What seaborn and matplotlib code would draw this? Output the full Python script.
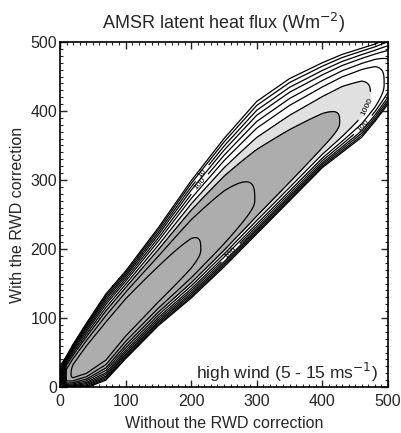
import numpy as np
import matplotlib
matplotlib.use("Agg")
import matplotlib.pyplot as plt
from matplotlib.ticker import MultipleLocator
import seaborn as sns

sns.set_style("ticks")
plt.rcParams['font.family'] = ['Liberation Sans', 'DejaVu Sans']

# ---- values ----
ridge_x      = [0, 10, 20, 40, 70, 100, 150, 200, 250, 300, 350, 400, 430, 460, 480, 500]
ridge_center = [15, 15, 20, 35, 62, 98, 143, 187, 231, 274, 317, 361, 387, 412, 428, 445]
ridge_peak   = [-0.5, 4.2, 4.6, 4.85, 4.9, 4.85, 4.7, 4.55, 4.3, 3.98, 3.78, 3.6, 3.46, 3.2, 2.9, 2.3]  # log10 count
edge_upper   = [30, 45, 62, 92, 135, 168, 231, 299, 360, 414, 447, 470, 482, 491, 497, 505]   # level-1 contour, upper side
edge_lower   = [0, -2, -2, -1, 10, 41, 89, 129, 174, 222, 270, 318, 340, 362, 385, 410]      # level-1 contour, lower side
contour_levels = [1, 3, 10, 30, 100, 300, 1000, 3000, 10000, 30000]
label_levels   = [10, 100, 1000]
shade_levels   = [1000, 3000]
ticks = [0, 100, 200, 300, 400, 500]

# ---- build the count field from the ridge description ----
p = 3.0
gx = np.linspace(-5, 510, 516)
gy = np.linspace(-25, 530, 556)
P = np.interp(gx, ridge_x, ridge_peak)
C = np.interp(gx, ridge_x, ridge_center)
U = np.interp(gx, ridge_x, edge_upper) - C
Lo = C - np.interp(gx, ridge_x, edge_lower)
base = np.maximum(P, 0.3) ** (1.0 / p)
hu = np.maximum(U, 1) / base
hl = np.maximum(Lo, 1) / base
X, Y = np.meshgrid(gx, gy)
D = Y - C[None, :]
H = np.where(D > 0, hu[None, :], hl[None, :])
L = P[None, :] - (np.abs(D) / H) ** p
Z = 10.0 ** L

fig = plt.figure(figsize=(4.02, 4.33), dpi=100)
ax = fig.add_axes([60 / 402, 46 / 433, 328 / 402, 345 / 433])

ax.contourf(gx, gy, Z, levels=shade_levels + [1e12], colors=['#e0e0e0', '#adadad'])
unlabeled = [v for v in contour_levels if v not in label_levels]
ax.contour(gx, gy, Z, levels=unlabeled, colors='black', linewidths=0.9)
label_spots = {10: [(228, 300)], 100: [(215, 292), (470, 372), (268, 186)], 1000: [(478, 400)]}
for lev in label_levels:
    cs = ax.contour(gx, gy, Z, levels=[lev], colors='black', linewidths=0.9)
    ax.clabel(cs, fmt='%d', fontsize=6, inline=True, manual=label_spots[lev])

ax.set_xlim(0, 500)
ax.set_ylim(0, 500)
ax.set_xticks(ticks)
ax.set_yticks(ticks)
ax.xaxis.set_minor_locator(MultipleLocator(10))
ax.yaxis.set_minor_locator(MultipleLocator(10))
ax.tick_params(which='both', direction='in', top=True, right=True, labelsize=11.5)
ax.tick_params(axis='x', which='major', pad=5)
ax.tick_params(axis='y', which='major', pad=2)
ax.tick_params(which='major', length=5, width=1)
ax.tick_params(which='minor', length=2.5, width=0.8)
for s in ax.spines.values():
    s.set_linewidth(1.2)
    s.set_color('black')

ax.set_xlabel('Without the RWD correction', fontsize=11.5)
ax.set_ylabel('With the RWD correction', fontsize=11.5)
ax.xaxis.set_label_coords(0.5, -0.085)
ax.yaxis.set_label_coords(-0.108, 0.5)
fig.text(224 / 402, 1 - 23 / 433, 'AMSR latent heat flux (Wm$^{-2}$)',
         ha='center', va='center', fontsize=13)
ax.text(0.97, 0.022, 'high wind (5 - 15 ms$^{-1}$)', transform=ax.transAxes,
        ha='right', va='baseline', fontsize=12.5)

fig.savefig('out.png', dpi=100)
